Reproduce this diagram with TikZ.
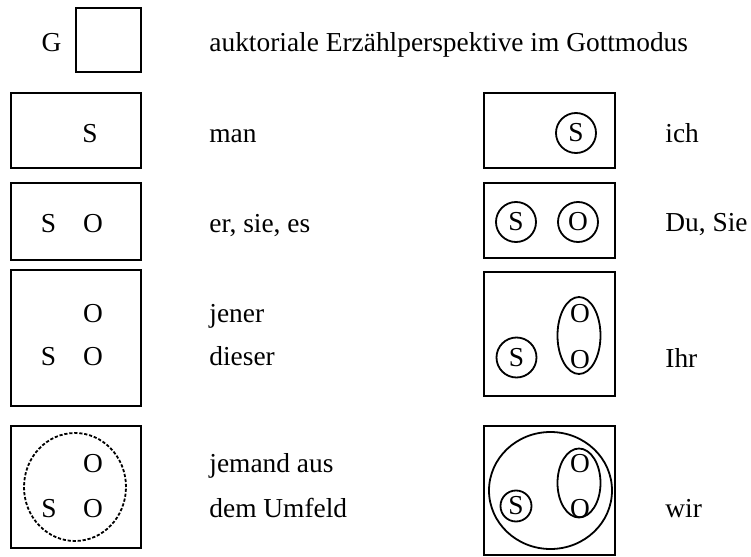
\documentclass[tikz,border=0pt]{standalone}
\usepackage{fontspec}
\setmainfont{Liberation Serif}
\usetikzlibrary{shapes.geometric}

\begin{document}
\begin{tikzpicture}[
x=0.5pt, y=-0.5pt,
every node/.style={font=\fontsize{13.7}{16}\selectfont},
panel/.style={draw, line width=1pt, inner sep=0pt},
lpanel/.style={panel, minimum width=65pt},
rpanel/.style={panel, minimum width=65.5pt},
ring/.style={draw, circle, line width=0.9pt, minimum size=20pt, inner sep=0pt},
egg/.style={draw, ellipse, line width=0.9pt, inner sep=0pt},
role/.style={inner sep=0pt, anchor=base},
caption/.style={inner sep=0pt, anchor=base west}
]
\useasboundingbox (0,0) rectangle (751,557);

% Gottmodus
\node[panel, minimum width=32.5pt, minimum height=32pt] (god) at (108.5,40) {};
\node[role] (g) at (51.5,51) {G};
\node[caption] (tgod) at (209,51) {auktoriale Erzählperspektive im Gottmodus};

% linke Spalte
\node[lpanel, minimum height=37.5pt] (man) at (76,130.5) {};
\node[role] (man s) at (90,142) {S};
\node[caption] (tman) at (209,142) {man};

\node[lpanel, minimum height=38.5pt] (er) at (76,221.5) {};
\node[role] (er s) at (48.5,232) {S};
\node[role] (er o) at (93,232) {O};
\node[caption] (ter) at (209,232) {er, sie, es};

\node[lpanel, minimum height=68pt] (jener) at (76,338) {};
\node[role] (jener o) at (93,322) {O};
\node[role] (dieser s) at (48.5,365) {S};
\node[role] (dieser o) at (93,365) {O};
\node[caption] (tjener) at (209,322) {jener};
\node[caption] (tdieser) at (209,365) {dieser};

\node[lpanel, minimum height=61pt] (umfeld) at (76,487) {};
\node[egg, dash pattern=on 1.6pt off 0.9pt, minimum width=51pt, minimum height=54pt] (umfeld rim) at (75,487) {};
\node[role] (umfeld o1) at (93,472) {O};
\node[role] (umfeld s) at (49,517) {S};
\node[role] (umfeld o2) at (93,517) {O};
\node[caption] (tumfeld1) at (209,472) {jemand aus};
\node[caption] (tumfeld2) at (209,517) {dem Umfeld};

% rechte Spalte
\node[rpanel, minimum height=37.5pt] (ich) at (549.5,130.5) {};
\node[ring] (ich s) at (576,133) {S};
\node[caption] (tich) at (665,142) {ich};

\node[rpanel, minimum height=37.5pt] (du) at (549.5,220.5) {};
\node[ring] (du s) at (516,222) {S};
\node[ring] (du o) at (578,222) {O};
\node[caption] (tdu) at (665,231) {Du, Sie};

\node[rpanel, minimum height=62pt] (ihr) at (549.5,334) {};
\node[ring] (ihr s) at (516.5,357.5) {S};
\node[egg, minimum width=21.5pt, minimum height=38.5pt] (ihr oo) at (579,335.5) {};
\node[role] (ihr o1) at (580,322) {O};
\node[role] (ihr o2) at (580,368) {O};
\node[caption] (tihr) at (665,367) {Ihr};

\node[rpanel, minimum height=64.5pt] (wir) at (549.5,490.5) {};
\node[egg, minimum width=61.5pt, minimum height=58.5pt] (wir rim) at (550.5,490.5) {};
\node[ring, minimum size=15.5pt] (wir s) at (516,506) {S};
\node[egg, minimum width=21.5pt, minimum height=34.5pt] (wir oo) at (579,483) {};
\node[role] (wir o1) at (580,472) {O};
\node[role] (wir o2) at (580,517) {O};
\node[caption] (twir) at (665,517) {wir};
\end{tikzpicture}
\end{document}
